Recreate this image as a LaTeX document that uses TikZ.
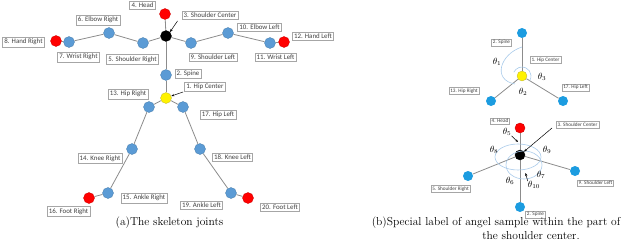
\documentclass[tikz,border=0pt]{standalone}
\usepackage{fontspec}
\newfontfamily\labfont{Carlito}
\usetikzlibrary{arrows.meta,backgrounds}
\definecolor{jblue}{HTML}{5B9BD5}
\definecolor{rblue}{HTML}{1C9CE0}
\definecolor{labgray}{HTML}{A6A6A6}
\definecolor{labtext}{HTML}{404040}
\definecolor{bonegray}{HTML}{8C8C8C}
\definecolor{arcblue}{HTML}{A9CBEA}
\tikzset{
  jl/.style={circle, minimum size=11pt, inner sep=0pt, fill=jblue, draw=jblue!80!black, line width=0.3pt},
  jr/.style={circle, minimum size=10pt, inner sep=0pt, fill=rblue},
  jred/.style={fill=red, draw=red!80!black},
  jyel/.style={fill=yellow, draw=yellow!70!black, line width=0.3pt},
  jblk/.style={fill=black, draw=black},
  lab/.style={draw=labgray, fill=white, text=labtext, font=\labfont\fontsize{6.9}{8}\selectfont, inner sep=1.8pt, line width=0.5pt},
  rlab/.style={lab, font=\labfont\fontsize{5.2}{6}\selectfont, inner sep=1.4pt, line width=0.4pt},
  bone/.style={draw=bonegray, line width=0.8pt},
  ptr/.style={-{Stealth[length=3pt,width=2.4pt]}, black, line width=0.5pt},
  ang/.style={draw=arcblue, line width=0.6pt},
  th/.style={font=\fontsize{9}{10}\selectfont, inner sep=0pt},
  captext/.style={font=\fontsize{11.5}{13}\selectfont, inner sep=0pt}
}
\begin{document}
\begin{tikzpicture}[x=1pt,y=-1pt]
\useasboundingbox (0,0) rectangle (640,241);
% ---------- (a) left skeleton ----------
\node[jl,jred] (head) at (165,14) {};
\node[jl,jblk] (sc) at (166,36) {};
\node[jl] (shr) at (143,43) {};
\node[jl] (elr) at (109,33) {};
\node[jl] (wrr) at (69,42) {};
\node[jl,jred] (har) at (56,41) {};
\node[jl] (shl) at (191,43) {};
\node[jl] (ell) at (228,33) {};
\node[jl] (wrl) at (270,43) {};
\node[jl,jred] (hal) at (284,42) {};
\node[jl] (sp) at (166,75) {};
\node[jl,jyel] (hc) at (166,98) {};
\node[jl] (hir) at (149,107) {};
\node[jl] (hil) at (183,107) {};
\node[jl] (knr) at (132,149) {};
\node[jl] (knl) at (200,149) {};
\node[jl] (anr) at (108,193) {};
\node[jl] (anl) at (231,193) {};
\node[jl,jred] (ftr) at (89,198) {};
\node[jl,jred] (ftl) at (248,198) {};
\begin{pgfonlayer}{background}
\foreach \a/\b in {head/sc, sc/shr, shr/elr, elr/wrr, wrr/har, sc/shl, shl/ell, ell/wrl, wrl/hal, sc/sp, sp/hc, hc/hir, hir/knr, knr/anr, anr/ftr, hc/hil, hil/knl, knl/anl, anl/ftl}
  \draw[bone] (\a) -- (\b);
\end{pgfonlayer}
% labels
\node[lab] (l4) at (142.5,5) {4. Head};
\node[lab] (l3) at (210,15.5) {3. Shoulder Center};
\node[lab] (l6) at (98,20) {6. Elbow Right};
\node[lab] (l8) at (23.5,42) {8. Hand Right};
\node[lab] (l7) at (78.5,57) {7. Wrist Right};
\node[lab] (l5) at (132.5,59.5) {5. Shoulder Right};
\node[lab] (l9) at (213,57.5) {9. Shoulder Left};
\node[lab] (l10) at (259.5,27) {10. Elbow Left};
\node[lab] (l12) at (313,36) {12. Hand Left};
\node[lab] (l11) at (275.5,57.5) {11. Wrist Left};
\node[lab] (l2) at (188,73.5) {2. Spine};
\node[lab] (l1) at (205,87) {1. Hip Center};
\node[lab] (l13) at (128,94) {13. Hip Right};
\node[lab] (l17) at (218,114.5) {17. Hip Left};
\node[lab] (l14) at (100,158.5) {14. Knee Right};
\node[lab] (l18) at (232.5,157.5) {18. Knee Left};
\node[lab] (l15) at (144,198) {15. Ankle Right};
\node[lab] (l19) at (201.5,205) {19. Ankle Left};
\node[lab] (l16) at (68.5,211.5) {16. Foot Right};
\node[lab] (l20) at (280,207) {20. Foot Left};
\coordinate (a3s) at (177.5,21);
\coordinate (a1s) at (183,92);
\draw[ptr] (a3s) -- (sc.45);
\draw[ptr] (a1s) -- (hc.20);
\node[captext] (capa) at (169.5,223) {(a)The skeleton joints};
% ---------- (b) upper: hip center ----------
\node[jr] (rsp) at (522,33) {};
\node[jr,jyel,minimum size=10pt] (rhc) at (522,76) {};
\node[jr] (rhr) at (491,101) {};
\node[jr] (rhl) at (563,101) {};
\begin{pgfonlayer}{background}
\draw[bone] (rsp) -- (rhc);
\draw[bone] (rhc) -- (rhr);
\draw[bone] (rhc) -- (rhl);
\end{pgfonlayer}
\draw[ang] (522,47) .. controls (500,54) and (492,80) .. (515,84);
\draw[ang] (522,76) ++(205:9) arc[start angle=205, end angle=390, radius=9];
\node[rlab] (r2) at (501.5,42.5) {2. Spine};
\node[rlab] (r1) at (545.5,60) {1. Hip Center};
\node[rlab] (r13) at (464,91) {13. Hip Right};
\node[rlab] (r17) at (575.5,87.5) {17. Hip Left};
\node[th] (t1) at (497,62) {$\theta_1$};
\node[th] (t2) at (523,92) {$\theta_2$};
\node[th] (t3) at (542,77) {$\theta_3$};
% ---------- (b) lower: shoulder center ----------
\node[jr,jred] (rhd) at (520,128) {};
\node[jr,jblk] (rsc) at (520,155) {};
\node[jr] (rsr) at (468,176) {};
\node[jr] (rsl) at (575,171) {};
\node[jr] (rsp2) at (520,207) {};
\begin{pgfonlayer}{background}
\draw[bone] (rhd) -- (rsc);
\draw[bone] (rsc) -- (rsr);
\draw[bone] (rsc) -- (rsl);
\draw[bone] (rsc) -- (rsp2);
\end{pgfonlayer}
\draw[ang] (518,157) ellipse[x radius=23, y radius=13];
\draw[ang] (524,165) ellipse[x radius=18, y radius=14];
\node[rlab] (r4) at (500,121) {4. Head};
\node[rlab] (r3) at (577.5,124.5) {3. Shoulder Center};
\node[rlab] (r5) at (450.5,189) {5. Shoulder Right};
\node[rlab] (r9) at (595.5,183) {9. Shoulder Left};
\node[rlab] (r2b) at (535.5,214.5) {2. Spine};
\coordinate (b3s) at (552,128);
\draw[ptr] (b3s) -- (rsc.40);
\node[th] (t5) at (507,132) {$\theta_5$};
\node[th] (t8) at (494,150) {$\theta_8$};
\node[th] (t9) at (547,150) {$\theta_9$};
\node[th] (t7) at (541,175) {$\theta_7$};
\node[th] (t6) at (510,181) {$\theta_6$};
\node[th] (t10) at (534,185) {$\theta_{10}$};
\coordinate (t5e) at (518,142);
\coordinate (t10e) at (525.5,173);
\draw[ptr] (t5.south east) -- (t5e);
\draw[ptr] (t10.north west) -- (t10e);
\node[captext] (capb1) at (496,222.5) {(b)Special label of angel sample within the part of};
\node[captext] (capb2) at (531,235.5) {the shoulder center.};
\end{tikzpicture}
\end{document}
